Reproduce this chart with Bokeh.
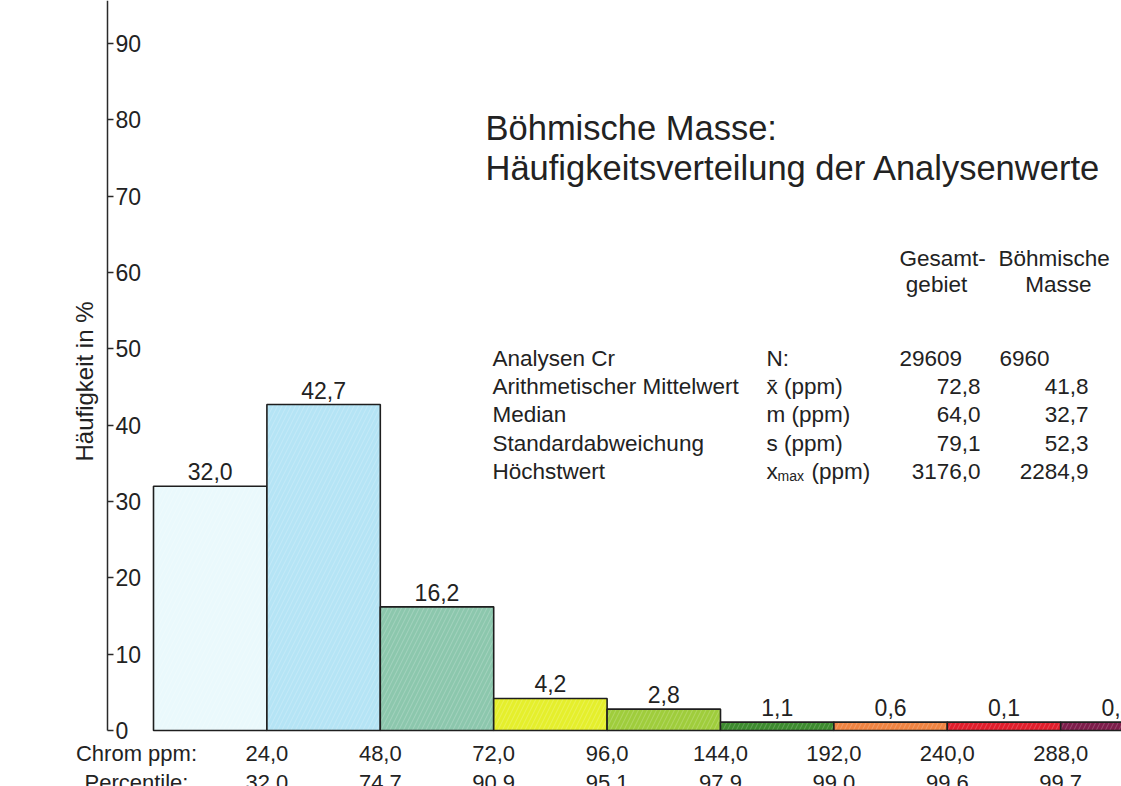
from bokeh.plotting import figure
from bokeh.models import Range1d, LinearAxis, FixedTicker, ColumnDataSource
from bokeh.embed import file_html
from bokeh.resources import INLINE
from bokeh.core.properties import value
import numpy as np

# ---------------- data ----------------
chrom_ppm = ["24,0", "48,0", "72,0", "96,0", "144,0", "192,0", "240,0", "288,0"]
percentile = ["32,0", "74,7", "90,9", "95,1", "97,9", "99,0", "99,6", "99,7"]
frequency = [32.0, 42.7, 16.2, 4.2, 2.8, 1.1, 0.6, 0.1, 0.3]
y_ticks = [0, 10, 20, 30, 40, 50, 60, 70, 80, 90]

stat_names = ["Analysen Cr", "Arithmetischer Mittelwert", "Median",
              "Standardabweichung", "Höchstwert"]
stat_symbols = ["N:", "x\u0304 (ppm)", "m (ppm)", "s (ppm)", None]
gesamt_values = ["29609", "72,8", "64,0", "79,1", "3176,0"]
boehm_values = ["6960", "41,8", "32,7", "52,3", "2284,9"]

# ---------------- styles ----------------
bar_colors = ["#eaf9fc", "#b5e4f5", "#8cc7ad", "#e5ef2c", "#9fcd3c",
              "#3d8b2f", "#f08442", "#e01e2c", "#7d1d4b"]
FONT = value("Liberation Sans")
TXT = "#222222"
TBL = "22.5px"

# page-pixel helpers (layout only)
X0, BW, Y0, YS = 153.0, 113.4, 730.0, 7.633
def dx(px):
    return (px - X0) / BW
def dy(py):
    return (Y0 - py) / YS

p = figure(width=1121, height=786,
           x_range=Range1d(dx(0), dx(1121)), y_range=Range1d(dy(786), dy(0)),
           x_axis_type=None, y_axis_type=None,
           output_backend="svg", toolbar_location=None,
           min_border=0, outline_line_color=None)
p.background_fill_color = "white"
p.border_fill_color = "white"

# ---------------- bars ----------------
n = len(frequency)
idx = np.arange(n)
shown = np.maximum(np.array(frequency), 1.1)
src = ColumnDataSource(dict(left=idx, right=idx + 1, top=shown,
                            color=bar_colors,
                            lx=idx + 0.5, ly=shown + 1.9,
                            lbl=[f"{v:.1f}".replace(".", ",") for v in frequency]))
p.quad(left="left", right="right", bottom=0, top="top", source=src,
       fill_color="color", line_color="#1e1e1e", line_width=1.6,
       hatch_pattern="/", hatch_color="white", hatch_alpha=0.2,
       hatch_scale=9, hatch_weight=1)
p.text(x="lx", y="ly", text="lbl", source=src, text_font=FONT,
       text_font_size="23px", text_color=TXT, text_align="center",
       text_baseline="middle")

# ---------------- y axis ----------------
yax = LinearAxis(fixed_location=dx(107), ticker=FixedTicker(ticks=y_ticks),
                 bounds=(0, 100))
yax.axis_line_color = "#2a2a2a"
yax.axis_line_width = 1.5
yax.major_tick_in = 0
yax.major_tick_out = 6
yax.major_tick_line_color = "#2a2a2a"
yax.major_tick_line_width = 1.5
yax.minor_tick_line_color = None
yax.major_label_standoff = 2
yax.major_label_text_font = "Liberation Sans"
yax.major_label_text_font_size = "23px"
yax.major_label_text_color = TXT
p.add_layout(yax, "right")

p.text(x=[dx(84)], y=[dy(381)], text=["Häufigkeit in %"], angle=np.pi / 2,
       text_font=FONT, text_font_size="24px", text_color=TXT,
       text_align="center", text_baseline="middle")

# ---------------- x label rows (axes) ----------------
def row_axis(ypx, name, labels):
    name_x = -0.15
    ticks = [name_x] + [float(i) for i in range(1, len(labels) + 1)]
    overrides = {name_x: name}
    for i, t in enumerate(labels):
        overrides[float(i + 1)] = t
    ax = LinearAxis(fixed_location=dy(ypx), ticker=FixedTicker(ticks=ticks),
                    major_label_overrides=overrides)
    ax.axis_line_color = None
    ax.major_tick_line_color = None
    ax.minor_tick_line_color = None
    ax.major_tick_in = 0
    ax.major_tick_out = 0
    ax.major_label_standoff = 0
    ax.major_label_text_font = "Liberation Sans"
    ax.major_label_text_font_size = "22px"
    ax.major_label_text_color = TXT
    p.add_layout(ax, "below")

row_axis(740, "Chrom ppm:", chrom_ppm)
row_axis(769, "Percentile:", percentile)

# ---------------- title ----------------
p.text(x=[dx(485), dx(485)], y=[dy(127), dy(167)],
       text=["Böhmische Masse:", "Häufigkeitsverteilung der Analysenwerte"],
       text_font=FONT, text_font_size="34.5px", text_color=TXT,
       text_align="left", text_baseline="middle")

# ---------------- statistics table ----------------
hdr_y1, hdr_y2 = 258, 284
p.text(x=[dx(899), dx(998)], y=[dy(hdr_y1)] * 2, text=["Gesamt-", "Böhmische"],
       text_font=FONT, text_font_size=TBL, text_color=TXT,
       text_align="left", text_baseline="middle")
p.text(x=[dx(936), dx(1058)], y=[dy(hdr_y2)] * 2, text=["gebiet", "Masse"],
       text_font=FONT, text_font_size=TBL, text_color=TXT,
       text_align="center", text_baseline="middle")

row_y = [dy(358 + 28.2 * i) for i in range(len(stat_names))]
p.text(x=[dx(492)] * len(stat_names), y=row_y, text=stat_names,
       text_font=FONT, text_font_size=TBL, text_color=TXT,
       text_align="left", text_baseline="middle")
sym_rows = [i for i, s in enumerate(stat_symbols) if s is not None]
p.text(x=[dx(766)] * len(sym_rows), y=[row_y[i] for i in sym_rows],
       text=[stat_symbols[i] for i in sym_rows],
       text_font=FONT, text_font_size=TBL, text_color=TXT,
       text_align="left", text_baseline="middle")
# x_max (ppm)
last = len(stat_names) - 1
p.text(x=[dx(766), dx(811)], y=[row_y[last]] * 2, text=["x", "(ppm)"],
       text_font=FONT, text_font_size=TBL, text_color=TXT,
       text_align="left", text_baseline="middle")
p.text(x=[dx(777)], y=[row_y[last] - 5 / YS], text=["max"],
       text_font=FONT, text_font_size="14px", text_color=TXT,
       text_align="left", text_baseline="middle")
# N row values left aligned, others right aligned
p.text(x=[dx(899), dx(999)], y=[row_y[0]] * 2,
       text=[gesamt_values[0], boehm_values[0]],
       text_font=FONT, text_font_size=TBL, text_color=TXT,
       text_align="left", text_baseline="middle")
p.text(x=[dx(980)] * last, y=row_y[1:], text=gesamt_values[1:],
       text_font=FONT, text_font_size=TBL, text_color=TXT,
       text_align="right", text_baseline="middle")
p.text(x=[dx(1088)] * last, y=row_y[1:], text=boehm_values[1:],
       text_font=FONT, text_font_size=TBL, text_color=TXT,
       text_align="right", text_baseline="middle")

open("out.html", "w").write(file_html(p, INLINE))
